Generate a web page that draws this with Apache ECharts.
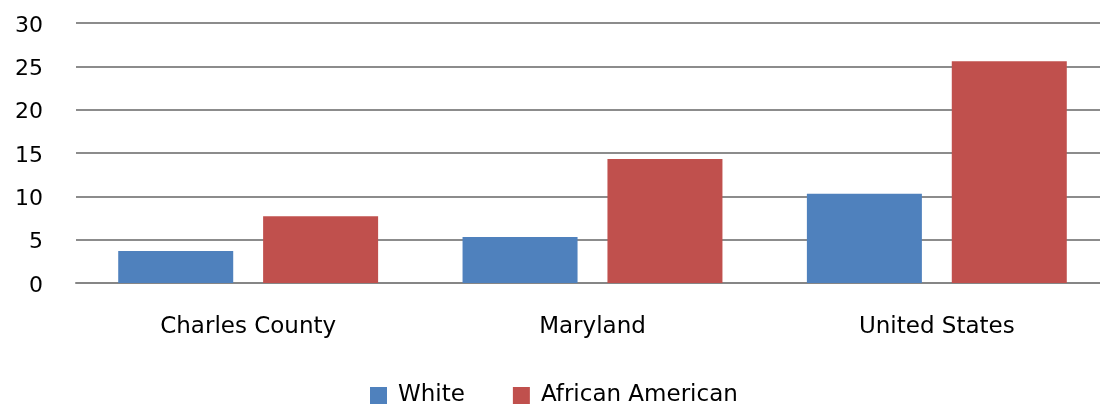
<!DOCTYPE html>
<html><head><meta charset="utf-8">
<script src="https://cdn.jsdelivr.net/npm/echarts@6/dist/echarts.min.js"></script>
<style>html,body{margin:0;padding:0;background:#fff;overflow:hidden;width:1100px;height:405px}#c{width:1112px;height:405px}</style>
</head><body><div id="c"></div>
<script>
const categories = ['Charles County', 'Maryland', 'United States'];
const whiteValues = [3.7, 5.3, 10.3];
const africanAmericanValues = [7.7, 14.3, 25.6];
const yTicks = [0, 5, 10, 15, 20, 25, 30];

const chart = echarts.init(document.getElementById('c'));
chart.setOption({
  animation: false,
  textStyle: { fontFamily: 'DejaVu Sans' },
  grid: { left: 76, top: 23, width: 1033, height: 260, containLabel: false },
  legend: {
    top: 384, left: 370, padding: 0, icon: 'rect',
    itemWidth: 17, itemHeight: 17, itemGap: 48,
    textStyle: { fontSize: 23, color: '#000', fontFamily: 'DejaVu Sans', padding: [0, 0, 0, 6] },
    data: ['White', 'African American']
  },
  xAxis: {
    type: 'category', data: categories,
    axisLine: { lineStyle: { color: '#868686', width: 2 } },
    axisTick: { show: false },
    axisLabel: { fontSize: 23, color: '#000', margin: 33, fontFamily: 'DejaVu Sans' }
  },
  yAxis: {
    type: 'value', min: yTicks[0], max: yTicks[yTicks.length - 1], interval: 5,
    axisLine: { show: false }, axisTick: { show: false },
    axisLabel: {
      margin: 33, formatter: '{a|{value}}',
      rich: { a: { fontSize: 22, color: '#000', fontFamily: 'DejaVu Sans', padding: [6, 0, 0, 0] } }
    },
    splitLine: { lineStyle: { color: '#8c8c8c', width: 2 } }
  },
  series: [
    { name: 'White', type: 'bar', data: whiteValues, barWidth: 115, barGap: '26%',
      itemStyle: { color: '#4F81BD' } },
    { name: 'African American', type: 'bar', data: africanAmericanValues, barWidth: 115, barGap: '26%',
      itemStyle: { color: '#C0504D' } }
  ]
});
</script></body></html>
